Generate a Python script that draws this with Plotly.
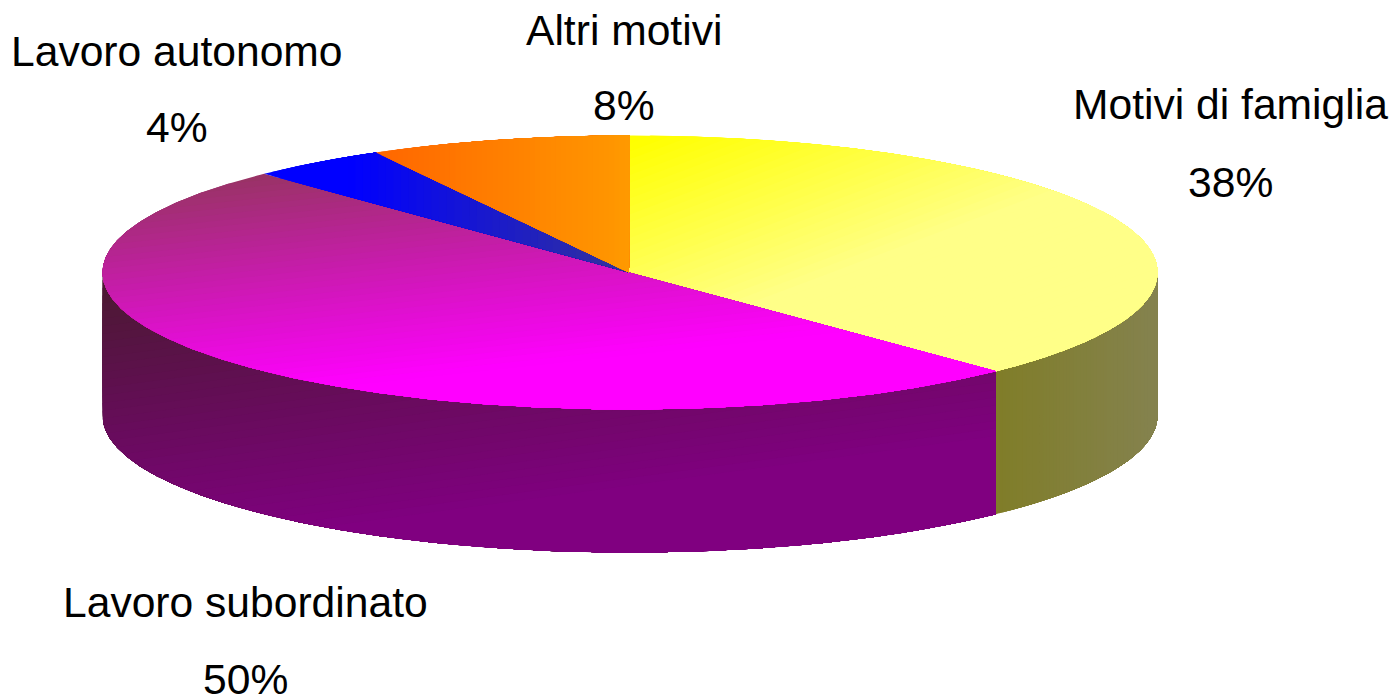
import math
import plotly.graph_objects as go

# --- data ---
categories = ["Motivi di famiglia", "Lavoro subordinato", "Lavoro autonomo", "Altri motivi"]
shares = [37.8, 50.0, 4.2, 8.0]
share_labels = ["38%", "50%", "4%", "8%"]

# --- label placement (pixel centres: name line, value line) ---
label_x = [1230, 245, 177, 624]
name_y = [104, 602, 51, 30]
value_y = [182, 679, 127, 105]

# --- pie projection ---
W, H = 1392, 696
CX, CY, RX, RY, DEPTH = 630, 272.5, 527.5, 137, 143
FONT = "Liberation Sans"
FONT_SIZE = 42.6


def lerp(c0, c1, t):
    t = max(0.0, min(1.0, t))
    return "rgb(%d,%d,%d)" % tuple(round(a + (b - a) * t) for a, b in zip(c0, c1))


# Gradient per face: colour at t=0, colour at t=1, origin, t per pixel in x and y
TOP = [
    ((255, 255, 0), (255, 255, 136), (640, 140), 0.0018, 0.0048),
    ((153, 51, 102), (255, 0, 255), (265, 176), 0.0005, 0.0046),
    ((0, 0, 255), (51, 51, 153), (350, 176), 0.00357, 0.0),
    ((255, 102, 0), (255, 153, 0), (376, 150), 0.00395, 0.0),
]
SIDE = [
    ((128, 125, 40), (132, 130, 78), (995, 300), 0.00625, 0.0),
    ((76, 25, 51), (128, 0, 128), (110, 290), 0.0005, 0.0037),
]
BANDS = 48


def pt(theta, dy=0.0):
    return (CX + RX * math.sin(theta), CY - RY * math.cos(theta) + dy)


def arc(a, b, dy=0.0):
    n = max(2, int(abs(b - a) / 0.006))
    return [pt(a + (b - a) * i / n, dy) for i in range(n + 1)]


def clip(poly, f):
    """Keep the part of a polygon where f(point) >= 0."""
    out = []
    for i, p in enumerate(poly):
        q = poly[(i + 1) % len(poly)]
        fp, fq = f(p), f(q)
        if fp >= 0:
            out.append(p)
        if (fp >= 0) != (fq >= 0):
            s = fp / (fp - fq)
            out.append((p[0] + (q[0] - p[0]) * s, p[1] + (q[1] - p[1]) * s))
    return out


fig = go.Figure()


def shaded(poly, grad):
    """Painter's gradient: each band repaints everything beyond its start, so no seams show."""
    c0, c1, (ox, oy), ax, ay = grad
    tf = lambda p: ax * (p[0] - ox) + ay * (p[1] - oy)
    ts = [tf(p) for p in poly]
    lo, hi = min(ts), max(ts)
    for k in range(BANDS):
        a = lo + (hi - lo) * k / BANDS
        b = lo + (hi - lo) * (k + 1) / BANDS
        part = clip(poly, lambda p: tf(p) - a) if k else poly
        if len(part) < 3:
            continue
        col = lerp(c0, c1, (a + b) / 2)
        fig.add_trace(go.Scatter(
            x=[p[0] for p in part] + [part[0][0]],
            y=[p[1] for p in part] + [part[0][1]],
            mode="lines", fill="toself", fillcolor=col,
            line=dict(width=0),
            hoverinfo="skip", showlegend=False,
        ))


# cumulative angles, clockwise from twelve o'clock
total = sum(shares)
edges = [0.0]
for s in shares:
    edges.append(edges[-1] + 2 * math.pi * s / total)

# outer wall: only the front half (pi/2 .. 3pi/2) is visible
for i in range(2):
    a = max(edges[i], math.pi / 2)
    b = min(edges[i + 1], 3 * math.pi / 2)
    wall = arc(a, b) + arc(b, a, DEPTH)
    shaded(wall, SIDE[i])

# top face
for i in range(len(shares)):
    wedge = [(CX - 1, CY)] + arc(edges[i], edges[i + 1])
    shaded(wedge, TOP[i])

for name, val, x, y0, y1 in zip(categories, share_labels, label_x, name_y, value_y):
    for txt, y in ((name, y0), (val, y1)):
        fig.add_annotation(x=x, y=y, text=txt, showarrow=False, xanchor="center",
                           yanchor="middle", font=dict(family=FONT, size=FONT_SIZE, color="black"))

fig.update_layout(
    width=W, height=H, margin=dict(l=0, r=0, t=0, b=0),
    paper_bgcolor="white", plot_bgcolor="white", showlegend=False,
    xaxis=dict(range=[0, W], visible=False, fixedrange=True),
    yaxis=dict(range=[H, 0], visible=False, fixedrange=True),
)
fig.write_html("out.html", config={"displayModeBar": False},
               post_script="document.body.style.margin='0';")
